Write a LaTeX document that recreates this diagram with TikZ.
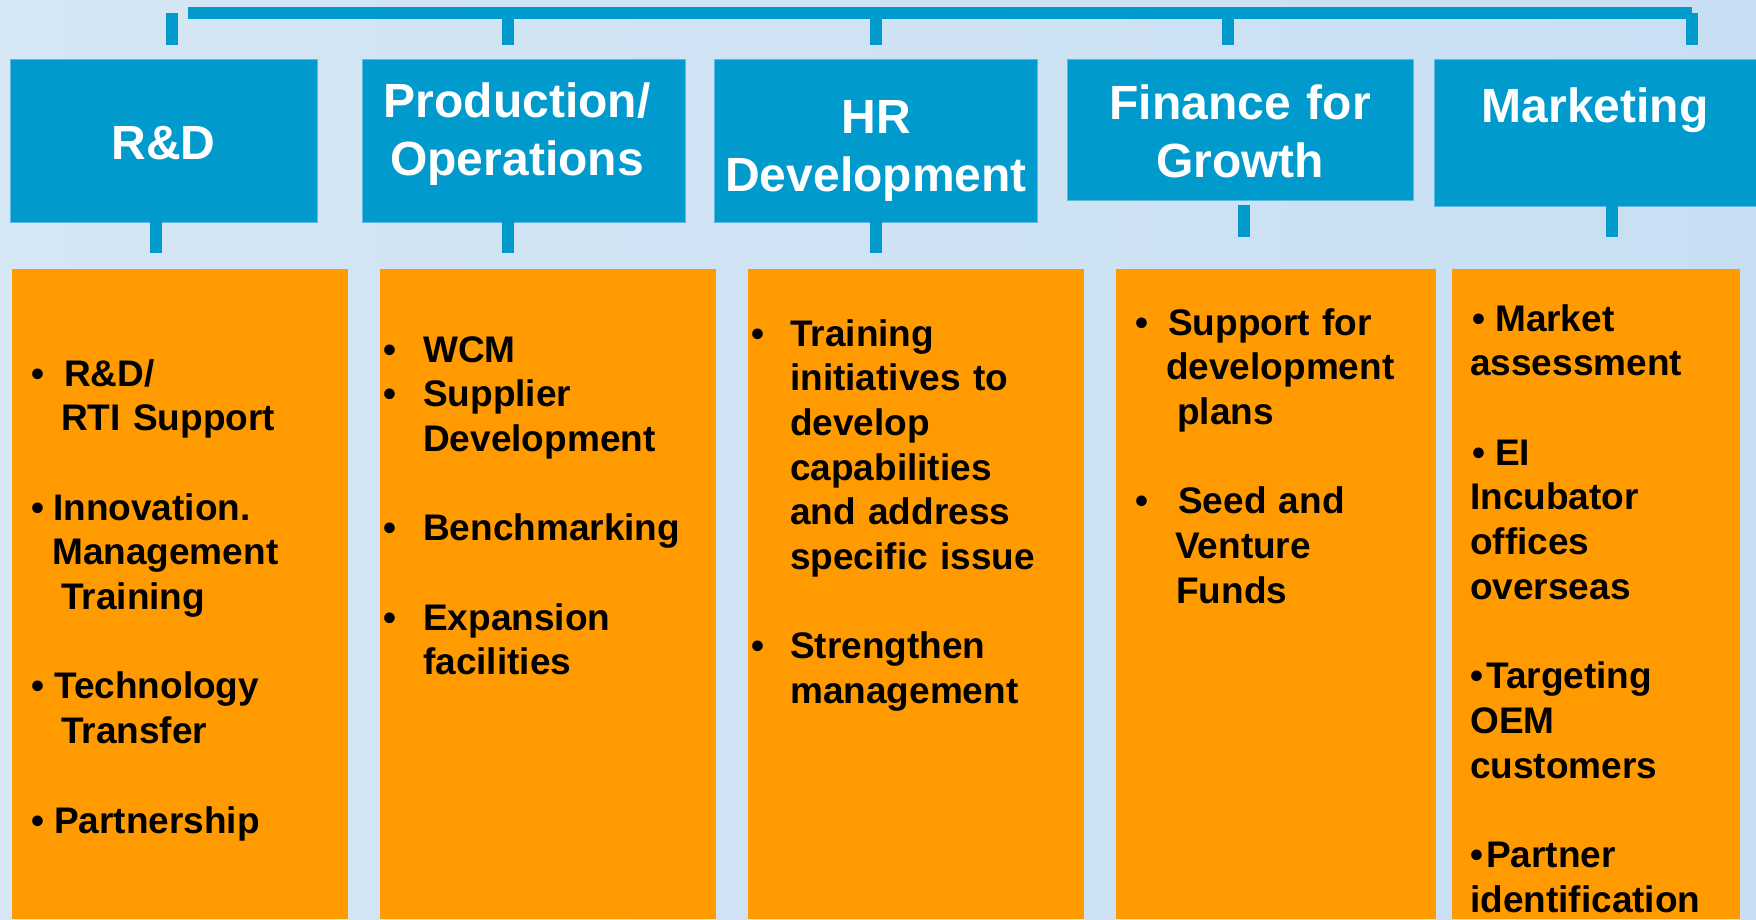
\documentclass[tikz,border=0pt]{standalone}
\usepackage{fontspec}
\setmainfont{Liberation Sans}
\definecolor{bgleft}{HTML}{D5E6F4}
\definecolor{bgright}{HTML}{C8DFF3}
\definecolor{hdblue}{HTML}{009ACD}
\definecolor{hdedge}{HTML}{5DB8E2}
\definecolor{itemorange}{HTML}{FF9A00}
% bullet line: bullet centred at #1, text starting at #2 (pt from the column's left edge)
\newcommand{\pbul}[3]{\makebox[0pt][l]{\hspace*{#1pt}\makebox[0pt]{•}}\hspace*{#2pt}#3}
% continuation line indented to #1
\newcommand{\pind}[2]{\hspace*{#1pt}#2}
\tikzset{
  header/.style={fill=hdblue, draw=hdedge, line width=0.8pt, anchor=north west,
                 inner sep=0pt, outer sep=0pt},
  column/.style={fill=itemorange, draw=none, anchor=north west, inner sep=0pt, outer sep=0pt},
  hdtext/.style={text=white, font=\bfseries\fontsize{48}{58}\selectfont, align=center,
                 anchor=base, inner sep=0pt, text width=340pt},
  coltext/.style={text=black, font=\bfseries\fontsize{37}{44.7}\selectfont, align=left,
                  anchor=base west, inner sep=0pt, text width=400pt},
  link/.style={draw=hdblue, line width=12pt},
}
\begin{document}
\begin{tikzpicture}[x=1pt,y=-1pt]
% page background
\useasboundingbox (0,0) rectangle (1756,919);
\shade[left color=bgleft, right color=bgright] (0,0) rectangle (1756,919);

% item columns
\node[column, minimum width=336pt, minimum height=650pt] (rdcol) at (12,269) {};
\node[column, minimum width=336pt, minimum height=650pt] (pocol) at (380,269) {};
\node[column, minimum width=336pt, minimum height=650pt] (hrcol) at (748,269) {};
\node[column, minimum width=320pt, minimum height=650pt] (fgcol) at (1116,269) {};
\node[column, minimum width=288pt, minimum height=650pt] (mkcol) at (1452,269) {};

% function headers
\node[header, minimum width=307pt, minimum height=163pt] (rdhead) at (10,59) {};
\node[header, minimum width=323pt, minimum height=163pt] (pohead) at (362,59) {};
\node[header, minimum width=323pt, minimum height=163pt] (hrhead) at (714,59) {};
\node[header, minimum width=346pt, minimum height=141pt] (fghead) at (1067,59) {};
\node[header, minimum width=330pt, minimum height=147pt] (mkhead) at (1434,59) {};

% top bus and its drops
\coordinate (busL) at (188,13);
\coordinate (busR) at (1692,13);
\draw[link] (busL) -- (busR);
\coordinate (rdtop) at (172,13);  \coordinate (rdtopend) at (172,45);
\coordinate (potop) at (507.5,13); \coordinate (potopend) at (507.5,45);
\coordinate (hrtop) at (876,13);  \coordinate (hrtopend) at (876,45);
\coordinate (fgtop) at (1228,13); \coordinate (fgtopend) at (1228,45);
\coordinate (mktop) at (1692,13); \coordinate (mktopend) at (1692,45);
\draw[link] (rdtop) -- (rdtopend);
\draw[link] (potop) -- (potopend);
\draw[link] (hrtop) -- (hrtopend);
\draw[link] (fgtop) -- (fgtopend);
\draw[link] (mktop) -- (mktopend);

% drops from headers towards the item columns
\coordinate (rdlow) at (156,222);   \coordinate (rdlowend) at (156,253);
\coordinate (polow) at (507.5,222); \coordinate (polowend) at (507.5,253);
\coordinate (hrlow) at (876,222);   \coordinate (hrlowend) at (876,253);
\coordinate (fglow) at (1244,205);  \coordinate (fglowend) at (1244,237);
\coordinate (mklow) at (1612,206);  \coordinate (mklowend) at (1612,237);
\draw[link] (rdlow) -- (rdlowend);
\draw[link] (polow) -- (polowend);
\draw[link] (hrlow) -- (hrlowend);
\draw[link] (fglow) -- (fglowend);
\draw[link] (mklow) -- (mklowend);

% header titles
\node[hdtext] (rdtitle) at (163.5,159) {R\&D};
\node[hdtext] (potitle) at (517,117) {Production/\\Operations};
\node[hdtext] (hrtitle) at (876,133) {HR\\Development};
\node[hdtext] (fgtitle) at (1240,119) {Finance for\\Growth};
\node[hdtext] (mktitle) at (1595,122) {Marketing};

% column items
\node[coltext] (rditems) at (12,386) {%
\pbul{26}{52}{R\&D/}\\
\pind{49}{RTI Support}\\[44.7pt]
\pbul{26}{41}{Innovation.}\\
\pind{40}{Management}\\
\pind{49}{Training}\\[44.7pt]
\pbul{26}{42}{Technology}\\
\pind{49}{Transfer}\\[44.7pt]
\pbul{26}{42}{Partnership}};

\node[coltext] (poitems) at (380,362) {%
\pbul{10}{43}{WCM}\\
\pbul{10}{43}{Supplier}\\
\pind{43}{Development}\\[44.7pt]
\pbul{10}{43}{Benchmarking}\\[44.7pt]
\pbul{10}{43}{Expansion}\\
\pind{43}{facilities}};

\node[coltext] (hritems) at (748,346) {%
\pbul{10}{42}{Training}\\
\pind{42}{initiatives to}\\
\pind{42}{develop}\\
\pind{42}{capabilities}\\
\pind{42}{and address}\\
\pind{42}{specific issue}\\[44.7pt]
\pbul{10}{42}{Strengthen}\\
\pind{42}{management}};

\node[coltext] (fgitems) at (1116,335) {%
\pbul{25.5}{52}{Support for}\\
\pind{50}{development}\\
\pind{61}{plans}\\[44.7pt]
\pbul{25.5}{62}{Seed and}\\
\pind{59}{Venture}\\
\pind{60}{Funds}};

\node[coltext] (mkitems) at (1452,331) {%
\pbul{27}{43}{Market}\\
\pind{18}{assessment}\\[44.7pt]
\pbul{27}{43}{EI}\\
\pind{18}{Incubator}\\
\pind{18}{offices}\\
\pind{18}{overseas}\\[44.7pt]
\pbul{25}{34}{Targeting}\\
\pind{18}{OEM}\\
\pind{18}{customers}\\[44.7pt]
\pbul{25}{34}{Partner}\\
\pind{18}{identification}};
\end{tikzpicture}
\end{document}
